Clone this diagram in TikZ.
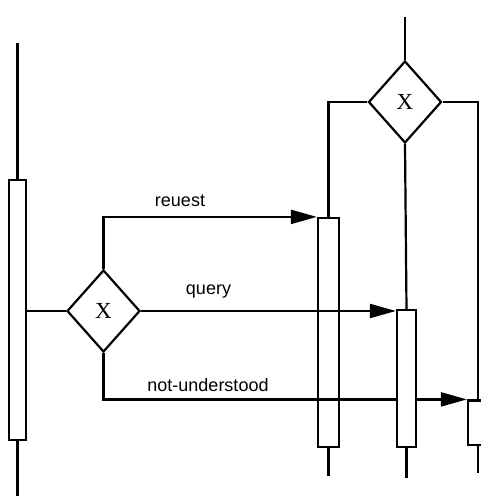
\documentclass[tikz,border=0pt]{standalone}
\usepackage{fontspec}
\setmainfont{Liberation Serif}
\setsansfont{Liberation Sans}
\usetikzlibrary{shapes.geometric,arrows.meta}
\tikzset{
	choice/.style={diamond, draw, fill=white, inner sep=0pt, minimum width=73pt, minimum height=82pt, font=\fontsize{23}{23}\selectfont},
	activation/.style={rectangle, draw, inner sep=0pt},
	msg/.style={-{Triangle[length=26pt,width=14pt]}},
	msglabel/.style={font=\sffamily\fontsize{18}{18}\selectfont}
}
\begin{document}
\begin{tikzpicture}[x=1pt, y=-1pt, line width=2.2pt]
			\useasboundingbox (0,0) rectangle (480,496);
			% activations
			\node (actA) [activation, minimum width=17pt, minimum height=260pt] at (17.5,310) {};
			\node (actB) [activation, minimum width=21pt, minimum height=229pt] at (328.5,332.5) {};
			\node (actD) [activation, minimum width=24pt, minimum height=44.5pt] at (480,422.75) {};
			% gateways
			\node (gateA) [choice] at (103.5,311) {X};
			\node (gateB) [choice] at (405,102) {X};
			\coordinate (topA) at (17.5,43);
			\coordinate (topB) at (405,17);
			\coordinate (lifeD) at (478,0);
			% lifelines
			\draw (topA) -- (actA.north);
			\draw (actA.south) -- ++(0,56);
			\draw (topB) -- (gateB.north);
			\draw (gateB.west) -| (actB.north);
			\draw (gateB.east) -| (lifeD |- actD.north);
			\draw (actB.south) -- ++(0,28);
			\draw (lifeD |- actD.south) -- ++(0,27);
			\draw (actA.east |- gateA.west) -- (gateA.west);
			% messages
			\draw [msg] (gateA.north) |- (actB.north west);
			\draw [msg] (gateA.south) |- (actD.north west);
			\node (actC) [activation, fill=white, minimum width=19pt, minimum height=137pt] at (406.5,378.5) {};
			\draw (gateB.south) -- (actC.north);
			\draw (actC.south) -- ++(0,30);
			\draw [msg] (gateA.east) -- (gateA.east -| actC.west);
			\node (lblRequest) [msglabel] at (180,201) {reuest};
			\node (lblQuery) [msglabel] at (208.5,292) {query};
			\node (lblNotUnderstood) [msglabel] at (208,385) {not-understood};
		\end{tikzpicture}
\end{document}
